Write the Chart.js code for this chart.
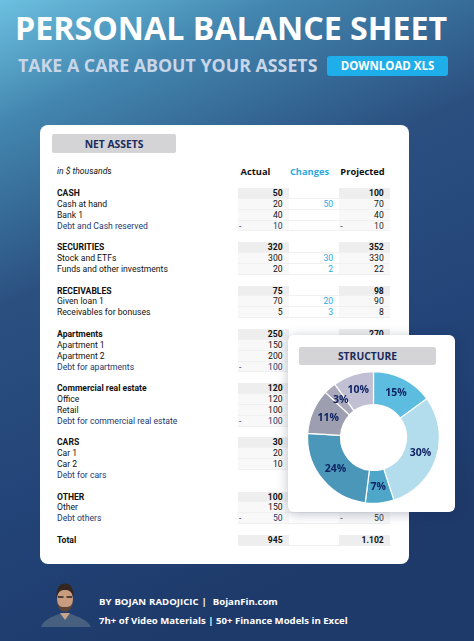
<!DOCTYPE html>
<html>
<head>
<meta charset="utf-8">
<title>Personal Balance Sheet</title>
<script src="https://cdn.jsdelivr.net/npm/chart.js@4"></script>
<style>
  html, body { margin: 0; padding: 0; }
  body {
    position: relative; width: 474px; height: 641px; overflow: hidden;
    font-family: Roboto, sans-serif; color: #111;
    background: linear-gradient(156deg, #6cc0e0 0%, #4285ae 15%, #2b5080 36%, #234478 60%, #1e3a6b 83%, #1e3a6b 100%);
  }
  .abs { position: absolute; }
  .title { left: 15px; top: 6px; font: bold 32.2px "Open Sans", sans-serif; color: #fff; white-space: nowrap; }
  .sub { left: 18px; top: 53px; font: bold 17.8px "Open Sans", sans-serif; color: #c9d6e8; white-space: nowrap; }
  .btn { left: 327px; top: 56px; width: 121px; height: 20px; border-radius: 3px; background: #1eaeea;
         color: #fff; font: bold 11.5px/20px "Open Sans", sans-serif; text-align: center; }
  .card { left: 40px; top: 125px; width: 369px; height: 439px; background: #fff; border-radius: 8px; }
  .head-box { background: #d4d4d6; border-radius: 2px; color: #1b2a5c; font: bold 10.3px "Open Sans", sans-serif; text-align: center; }
  .col-head { top: 165px; font: bold 9.3px/13px "Open Sans", sans-serif; text-align: center; width: 51px; }
  .units { left: 57px; top: 165px; font-style: italic; font-size: 8.6px; line-height: 13px; }
  #rows { left: 0; top: 188px; width: 400px; }
  .row { position: relative; height: 10.85px; line-height: 10.85px; font-size: 8.6px; white-space: nowrap; }
  .row .name { position: absolute; left: 57px; }
  .row .c { position: absolute; top: 0; height: 10.85px; width: 50.6px; box-sizing: border-box; text-align: right; padding-right: 6px; }
  .c.a { left: 238px; background: #f8f8f8; border-bottom: 1px solid #f0f0f0; }
  .c.b { left: 288.6px; background: #fff; color: #2aa9df; border-bottom: 1px solid #f0f0f0; }
  .c.p { left: 339.2px; background: #f8f8f8; border-bottom: 1px solid #f0f0f0; }
  .row.bold .name, .row.bold .c.a, .row.bold .c.p { font-weight: bold; }
  .row.bold .c.a, .row.bold .c.p { background: #eeeeee; }
  .row.debt .name, .row.debt .c { color: #24386f; }
  .row.debt .c.p { color: #333; }
  .minus { position: absolute; left: 1px; }
  .panel { left: 288px; top: 335px; width: 167px; height: 177px; background: #fff; border-radius: 6px; box-shadow: 0 2px 12px rgba(20,40,80,0.28); }
  #structure { position: absolute; left: 307px; top: 371px; }
  .foot { color: #fff; font: bold 9.6px "Open Sans", sans-serif; white-space: nowrap; }
</style>
</head>
<body>
<div class="abs title">PERSONAL BALANCE SHEET</div>
<div class="abs sub">TAKE A CARE ABOUT YOUR ASSETS</div>
<div class="abs btn">DOWNLOAD XLS</div>

<div class="abs card"></div>
<div class="abs head-box" style="left:52px;top:134px;width:124px;height:19px;line-height:20px">NET ASSETS</div>
<div class="abs units">in $ thousands</div>
<div class="abs col-head" style="left:230px">Actual</div>
<div class="abs col-head" style="left:284px;color:#2aa9df">Changes</div>
<div class="abs col-head" style="left:337px">Projected</div>
<div class="abs" id="rows"></div>

<div class="abs panel"></div>
<div class="abs head-box" style="left:299px;top:347px;width:137px;height:18px;line-height:18px">STRUCTURE</div>
<canvas id="structure" width="133" height="133"></canvas>

<svg class="abs" style="left:37px;top:582px" width="58" height="47" viewBox="0 0 58 47">
  <path d="M4 45 C7 37 15 35 22 32 L34 32 C41 35 50 37 54 45 Z" fill="#47607f"/>
  <path d="M23 31 L28 38 L33 31 Z" fill="#c9a28a"/>
  <ellipse cx="28" cy="17" rx="8" ry="11.5" fill="#c99c80"/>
  <path d="M19.500 16 C19 5 23 1.500 28 1.500 C33 1.500 37 5 36.500 16 C35 9 32 8 28 8 C24 8 21 9 19.500 16 Z" fill="#33271f"/>
  <path d="M20 20 C21 28 25 29.500 28 29.500 C31 29.500 35 28 36 20 C34 25 31 25 28 25 C25 25 22 25 20 20 Z" fill="#5b4437"/>
  <path d="M21 15 H26.500 M29.500 15 H35" stroke="#2a2018" stroke-width="1.5"/>
</svg>
<div class="abs foot" style="left:99px;top:595px;word-spacing:0.5px">BY BOJAN RADOJICIC |&nbsp; BojanFin.com</div>
<div class="abs foot" style="left:99px;top:614px">7h+ of Video Materials | 50+ Finance Models in Excel</div>

<script>
// one entry per sheet line, null name = spacer line
const rowNames = [
  'CASH', 'Cash at hand', 'Bank 1', 'Debt and Cash reserved', null,
  'SECURITIES', 'Stock and ETFs', 'Funds and other investments', null,
  'RECEIVABLES', 'Given loan 1', 'Receivables for bonuses', null,
  'Apartments', 'Apartment 1', 'Apartment 2', 'Debt for apartments', null,
  'Commercial real estate', 'Office', 'Retail', 'Debt for commercial real estate', null,
  'CARS', 'Car 1', 'Car 2', 'Debt for cars', null,
  'OTHER', 'Other', 'Debt others', null,
  'Total'
]
const actualValues = [
  50, 20, 40, -10, null,
  320, 300, 20, null,
  75, 70, 5, null,
  250, 150, 200, -100, null,
  120, 120, 100, -100, null,
  30, 20, 10, null, null,
  100, 150, -50, null,
  945
]
const changeValues = [
  null, 50, null, null, null,
  null, 30, 2, null,
  null, 20, 3, null,
  null, null, null, null, null,
  null, null, null, null, null,
  null, null, null, null, null,
  null, null, null, null,
  null
]
const projectedValues = [
  100, 70, 40, -10, null,
  352, 330, 22, null,
  98, 90, 8, null,
  270, null, null, null, null,
  null, null, null, null, null,
  null, null, null, null, null,
  null, null, -50, null,
  '1.102'
]
const boldRows = ['CASH', 'SECURITIES', 'RECEIVABLES', 'Apartments', 'Commercial real estate', 'CARS', 'OTHER', 'Total']

const structureLabels = ['Securities', 'Apartments', 'Receivables', 'Cash', 'Commercial', 'Cars', 'Other']
const structureValues = [15, 30, 7, 24, 11, 3, 10]
const structureColors = ['#5dbde0', '#b3dcec', '#4ea6c9', '#4a97b9', '#9d9fb0', '#a9a9bb', '#c1bfd3']

function valueCell(cls, value) {
  let cell = document.createElement('div')
  cell.className = 'c ' + cls
  if (value === null) return cell
  if (typeof value === 'number' && value < 0) {
    cell.innerHTML = '<span class="minus">-</span>' + Math.abs(value)
  } else {
    cell.textContent = value
  }
  return cell
}

const rowsBox = document.getElementById('rows')
rowNames.forEach(function (name, i) {
  let row = document.createElement('div')
  row.className = 'row'
  if (name !== null) {
    if (boldRows.includes(name)) row.className += ' bold'
    if (name.indexOf('Debt') === 0) row.className += ' debt'
    let label = document.createElement('div')
    label.className = 'name'
    label.textContent = name
    row.appendChild(label)
    // "Debt for cars" has no cells in the sheet
    if (name !== 'Debt for cars') {
      row.appendChild(valueCell('a', actualValues[i]))
      row.appendChild(valueCell('b', changeValues[i]))
      row.appendChild(valueCell('p', projectedValues[i]))
    }
  }
  rowsBox.appendChild(row)
})

// percent labels on the slices
const sliceLabels = {
  id: 'sliceLabels',
  afterDatasetsDraw(chart) {
    const ctx = chart.ctx
    ctx.save()
    ctx.font = 'bold 10.5px "Open Sans", sans-serif'
    ctx.fillStyle = '#0f2464'
    ctx.textAlign = 'center'
    ctx.textBaseline = 'middle'
    chart.getDatasetMeta(0).data.forEach(function (arc, i) {
      let pos = arc.tooltipPosition()
      ctx.fillText(structureValues[i] + '%', pos.x, pos.y)
    })
    ctx.restore()
  }
}

new Chart(document.getElementById('structure'), {
  type: 'doughnut',
  data: {
    labels: structureLabels,
    datasets: [{
      data: structureValues,
      backgroundColor: structureColors,
      borderColor: '#ffffff',
      borderWidth: 1.2
    }]
  },
  options: {
    responsive: false,
    animation: false,
    cutout: '50%',
    plugins: { legend: { display: false }, tooltip: { enabled: false } }
  },
  plugins: [sliceLabels]
})
</script>
</body>
</html>
